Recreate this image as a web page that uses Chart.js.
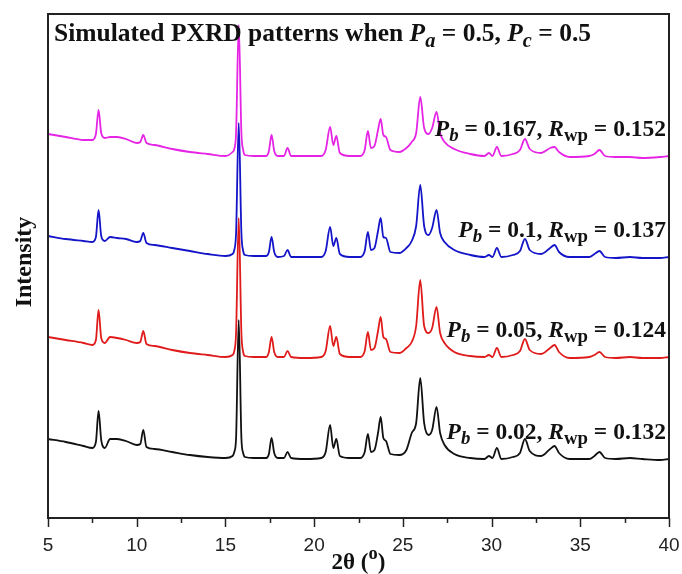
<!DOCTYPE html>
<html>
<head>
<meta charset="utf-8">
<script src="https://cdn.jsdelivr.net/npm/chart.js@4.4.1/dist/chart.umd.min.js"></script>
<style>
  html, body { margin: 0; padding: 0; background: #fff; }
  #wrap { width: 682px; height: 574px; }
</style>
</head>
<body>
<div id="wrap"><canvas id="pxrd" width="682" height="574"></canvas></div>
<script>
// 2-theta positions (degrees) shared by all four patterns
const twoTheta = [5, 6, 7, 7.5, 7.7, 7.85, 8.0, 8.2, 8.5, 8.9, 9.4, 10.0, 10.2, 10.37, 10.55, 11.0, 12, 13, 14, 15,
  15.4, 15.5, 15.6, 15.75, 15.9, 16.0, 16.1, 16.6, 17.3, 17.45, 17.6, 17.75, 17.95, 18.3, 18.5, 18.7, 19.5, 20.4, 20.65, 20.9,
  21.08, 21.25, 21.45, 22.0, 22.6, 22.85, 23.03, 23.2, 23.4, 23.6, 23.75, 23.9, 24.05, 24.3, 24.8, 25.2, 25.5,
  25.75, 25.98, 26.2, 26.45, 26.65, 26.9, 27.1, 27.35, 27.9, 28.8, 29.6, 29.85, 30.05, 30.3, 30.55, 31.2, 31.6,
  31.88, 32.15, 32.8, 33.3, 33.55, 33.8, 34.4, 35.5, 35.8, 36.08, 36.4, 37.0, 37.8, 38.5, 39.5, 40];

// intensities (arbitrary units, patterns already offset as in the figure)
const pb002 = [79, 76, 72, 70, 76, 107, 78, 70, 79, 79, 77, 73, 74, 88, 71, 69, 66, 63, 61, 60,
  62, 66, 80, 198, 80, 65, 61, 60, 60, 64, 80, 65, 60, 60, 66, 60, 59, 60, 66, 93,
  70, 79, 62, 60, 60, 66, 84, 66, 68, 85, 101, 80, 77, 64, 63, 68, 85,
  95, 140, 95, 83, 88, 111, 85, 73, 64, 60, 59, 62, 60, 70, 59, 61, 65,
  79, 67, 62, 69, 72, 65, 59, 59, 62, 66, 60, 59, 60, 59, 58, 59];

const pb005 = [181, 178, 175, 173, 178, 208, 180, 175, 181, 180, 178, 175, 176, 187, 174, 172, 168, 165, 163, 161,
  163, 167, 185, 300, 185, 166, 162, 161, 161, 166, 181, 166, 161, 161, 167, 161, 160, 161, 167, 192,
  172, 181, 164, 161, 161, 167, 186, 168, 170, 187, 201, 181, 179, 166, 165, 170, 176,
  192, 238, 192, 185, 190, 211, 185, 175, 166, 162, 161, 163, 161, 170, 161, 163, 167,
  179, 168, 164, 170, 173, 166, 160, 161, 163, 166, 161, 160, 161, 160, 160, 161];

const pb01 = [282, 279, 277, 276, 281, 308, 282, 277, 281, 280, 279, 276, 277, 285, 275, 273, 270, 267, 264, 262,
  264, 268, 285, 395, 285, 267, 263, 262, 262, 266, 281, 266, 261, 262, 268, 261, 261, 261, 267, 291,
  272, 280, 264, 261, 261, 267, 286, 268, 270, 287, 300, 281, 280, 266, 265, 270, 277,
  292, 333, 292, 283, 290, 308, 285, 276, 268, 263, 261, 263, 261, 270, 261, 263, 267,
  279, 268, 264, 270, 273, 266, 261, 261, 264, 267, 261, 260, 261, 260, 260, 261];

const pb0167 = [384, 381, 378, 378, 384, 408, 385, 380, 381, 381, 379, 375, 376, 383, 375, 373, 369, 366, 364, 362,
  366, 369, 385, 493, 385, 368, 363, 362, 362, 367, 383, 367, 362, 362, 370, 362, 362, 362, 368, 391,
  373, 382, 365, 362, 362, 368, 387, 370, 372, 388, 399, 383, 381, 368, 366, 370, 376,
  385, 421, 390, 384, 390, 406, 385, 376, 369, 364, 362, 365, 362, 371, 362, 364, 368,
  379, 369, 365, 370, 371, 366, 361, 362, 364, 368, 362, 361, 361, 360, 361, 362];

const seriesLabels = [
  [['P', 'i'], ['b', 'isub'], [' = 0.02, ', 'n'], ['R', 'i'], ['wp', 'sub'], [' = 0.132', 'n']],
  [['P', 'i'], ['b', 'isub'], [' = 0.05, ', 'n'], ['R', 'i'], ['wp', 'sub'], [' = 0.124', 'n']],
  [['P', 'i'], ['b', 'isub'], [' = 0.1, ', 'n'], ['R', 'i'], ['wp', 'sub'], [' = 0.137', 'n']],
  [['P', 'i'], ['b', 'isub'], [' = 0.167, ', 'n'], ['R', 'i'], ['wp', 'sub'], [' = 0.152', 'n']]
];
const labelBaselines = [439, 337, 237, 136];
const colors = ['#111111', '#e01b1b', '#1414c8', '#e524e5'];
const xTicks = [5, 10, 15, 20, 25, 30, 35, 40];

const SERIF = '"Liberation Serif", "Times New Roman", serif';

// draws bold serif text made of pieces with italics / subscripts / superscripts
function richText(ctx, parts, x, y, size, align) {
  const fontFor = (style) => {
    const small = style === 'sub' || style === 'isub' || style === 'sup';
    const it = style === 'i' || style === 'isub';
    return (it ? 'italic ' : '') + 'bold ' + (small ? size * 0.8 : size) + 'px ' + SERIF;
  };
  let total = 0;
  parts.forEach(p => { ctx.font = fontFor(p[1]); total += ctx.measureText(p[0]).width; });
  let cx = align === 'right' ? x - total : align === 'center' ? x - total / 2 : x;
  ctx.textAlign = 'left';
  ctx.textBaseline = 'alphabetic';
  parts.forEach(p => {
    ctx.font = fontFor(p[1]);
    let dy = 0;
    if (p[1] === 'sub' || p[1] === 'isub') dy = size * 0.22;
    if (p[1] === 'sup') dy = -size * 0.42;
    ctx.fillText(p[0], cx, y + dy);
    cx += ctx.measureText(p[0]).width;
  });
}

const decor = {
  id: 'decor',
  afterDraw(chart) {
    const { ctx, chartArea: a, scales: { x } } = chart;
    ctx.save();
    // frame
    ctx.strokeStyle = '#222';
    ctx.lineWidth = 2;
    ctx.strokeRect(a.left, a.top, a.right - a.left, a.bottom - a.top);
    // outward ticks on bottom axis
    ctx.lineWidth = 1.5;
    for (let v = 5; v <= 40; v += 2.5) {
      const px = Math.round(x.getPixelForValue(v)) + 0.5;
      const len = v % 5 === 0 ? 9 : 5;
      ctx.beginPath();
      ctx.moveTo(px, a.bottom);
      ctx.lineTo(px, a.bottom + len);
      ctx.stroke();
    }
    ctx.fillStyle = '#111';
    // title inside plot
    richText(ctx, [['Simulated PXRD patterns when ', 'n'], ['P', 'i'], ['a', 'isub'], [' = 0.5, ', 'n'],
      ['P', 'i'], ['c', 'isub'], [' = 0.5', 'n']], a.left + 6, 41, 25.5, 'left');
    // pattern labels
    seriesLabels.forEach((parts, i) => richText(ctx, parts, a.right - 3, labelBaselines[i], 23.5, 'right'));
    // x axis title
    richText(ctx, [['2θ (', 'n'], ['o', 'sup'], [')', 'n']], (a.left + a.right) / 2, 569, 23, 'center');
    // y axis title
    ctx.translate(23, (a.top + a.bottom) / 2 - 4);
    ctx.rotate(-Math.PI / 2);
    richText(ctx, [['Intensity', 'n']], 0, 8, 24, 'center');
    ctx.restore();
  }
};

const mk = (vals, i) => ({
  data: twoTheta.map((t, k) => ({ x: t, y: vals[k] })),
  borderColor: colors[i],
  borderWidth: 1.8,
  pointRadius: 0,
  fill: false,
  cubicInterpolationMode: 'monotone'
});

new Chart(document.getElementById('pxrd'), {
  type: 'line',
  data: {
    // first dataset is drawn on top
    datasets: [mk(pb002, 0), mk(pb005, 1), mk(pb01, 2), mk(pb0167, 3)]
  },
  options: {
    responsive: false,
    animation: false,
    layout: { padding: { left: 48, right: 13, top: 14, bottom: 0 } },
    plugins: { legend: { display: false }, tooltip: { enabled: false } },
    scales: {
      x: {
        type: 'linear',
        min: 5,
        max: 40,
        afterBuildTicks: (scale) => { scale.ticks = xTicks.map(v => ({ value: v })); },
        afterFit: (scale) => {
          scale.height = 56;
          scale.paddingLeft = 0;
          scale.paddingRight = 0;
        },
        grid: { display: false, drawTicks: false },
        border: { display: false },
        ticks: {
          padding: 16,
          maxRotation: 0,
          autoSkip: false,
          color: '#222',
          font: { family: '"Liberation Sans", Arial, sans-serif', size: 19 }
        }
      },
      y: { min: 0, max: 504, display: false }
    }
  },
  plugins: [decor]
});
</script>
</body>
</html>
